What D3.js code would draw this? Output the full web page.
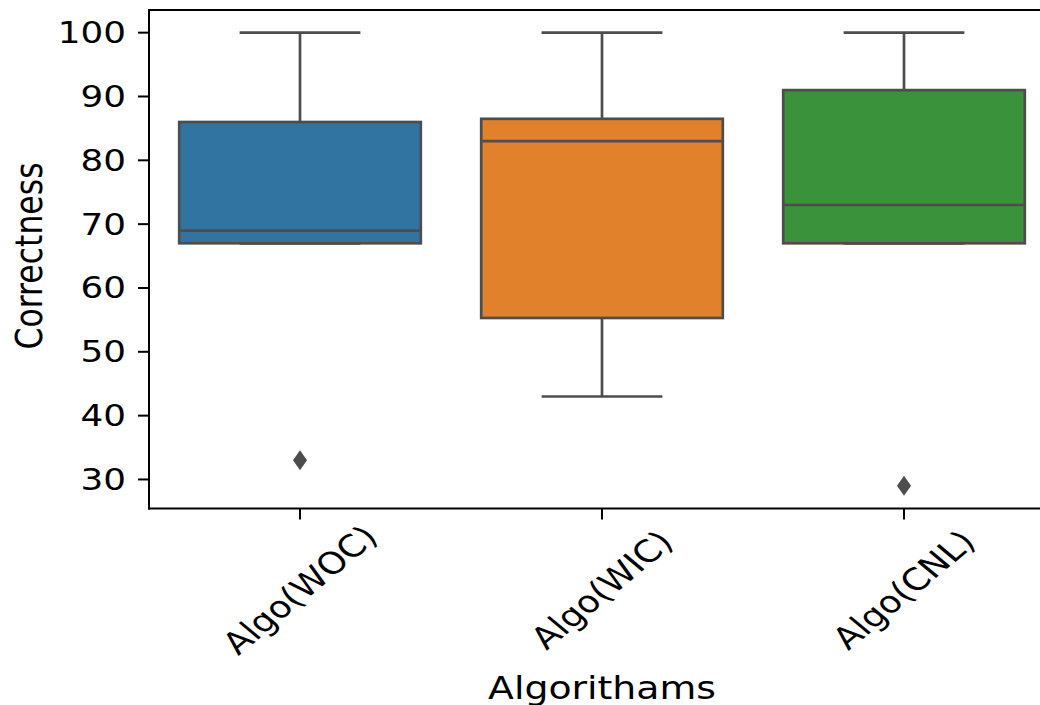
<!DOCTYPE html>
<html lang="en">
<head>
    <meta charset="UTF-8">
    <title>Correctness by algorithm</title>
    <style>
        html, body { margin: 0; background: #fff; overflow: hidden; }
        svg { display: block; }
        text { font-family: "DejaVu Sans", sans-serif; fill: #000; }
    </style>
</head>
<body>
<script src="https://d3js.org/d3.v7.min.js"></script>
<script>
    const width = 1040;
    const height = 705;

    // data
    const categories = ["Algo(WOC)", "Algo(WIC)", "Algo(CNL)"];
    const colors = ["#3274a1", "#e1812c", "#3a923a"];
    const q1 = [67, 55.3, 67];
    const median = [69, 83, 73];
    const q3 = [86, 86.5, 91];
    const whiskerLow = [67, 43, 67];
    const whiskerHigh = [100, 100, 100];
    const outliers = [[33], [], [29]];
    const yTicks = [30, 40, 50, 60, 70, 80, 90, 100];

    const stretch = 1.2; // the picture is stretched horizontally
    const lineColor = "#4d4d4d";

    const svg = d3.select("body")
        .append("svg")
        .attr("width", width)
        .attr("height", height);

    // right edge of the axes lies past the picture
    const plot = {left: 149, right: 1055, top: 10, bottom: 508.5};

    const x = d3.scalePoint()
        .domain(categories)
        .range([plot.left, plot.right])
        .padding(0.5);

    const lo = d3.min([...whiskerLow, ...outliers.flat()]);
    const hi = d3.max([...whiskerHigh, ...outliers.flat()]);
    const pad = (hi - lo) * 0.05;
    const y = d3.scaleLinear()
        .domain([lo - pad, hi + pad])
        .range([plot.bottom, plot.top]);

    const boxHalf = x.step() * 0.4;
    const capHalf = boxHalf / 2;

    const data = categories.map((c, i) => ({
        cat: c, color: colors[i], q1: q1[i], med: median[i], q3: q3[i],
        lo: whiskerLow[i], hi: whiskerHigh[i], out: outliers[i]
    }));

    const g = svg.append("g")
        .selectAll("g")
        .data(data)
        .enter().append("g");

    // whiskers
    g.append("line")
        .attr("x1", d => x(d.cat)).attr("x2", d => x(d.cat))
        .attr("y1", d => y(d.q3)).attr("y2", d => y(d.hi))
        .attr("stroke", lineColor).attr("stroke-width", 2.7);
    g.append("line")
        .attr("x1", d => x(d.cat)).attr("x2", d => x(d.cat))
        .attr("y1", d => y(d.q1)).attr("y2", d => y(d.lo))
        .attr("stroke", lineColor).attr("stroke-width", 2.7);
    // caps
    g.selectAll(".cap")
        .data(d => [d.lo, d.hi].map(v => ({cat: d.cat, v})))
        .enter().append("line")
        .attr("x1", d => x(d.cat) - capHalf).attr("x2", d => x(d.cat) + capHalf)
        .attr("y1", d => y(d.v)).attr("y2", d => y(d.v))
        .attr("stroke", lineColor).attr("stroke-width", 2.7);

    // boxes
    g.append("rect")
        .attr("x", d => x(d.cat) - boxHalf)
        .attr("width", boxHalf * 2)
        .attr("y", d => y(d.q3))
        .attr("height", d => y(d.q1) - y(d.q3))
        .attr("fill", d => d.color)
        .attr("stroke", lineColor).attr("stroke-width", 2.7);
    // medians
    g.append("line")
        .attr("x1", d => x(d.cat) - boxHalf).attr("x2", d => x(d.cat) + boxHalf)
        .attr("y1", d => y(d.med)).attr("y2", d => y(d.med))
        .attr("stroke", lineColor).attr("stroke-width", 2.7);

    // outliers, thin diamonds
    g.selectAll(".out")
        .data(d => d.out.map(v => ({cat: d.cat, v})))
        .enter().append("path")
        .attr("transform", d => `translate(${x(d.cat)},${y(d.v)})`)
        .attr("d", "M0,-10L7,0L0,10L-7,0Z")
        .attr("fill", lineColor);

    // spines: left, top, bottom
    const spines = [
        [plot.left, plot.top, plot.left, plot.bottom],
        [plot.left, plot.top, plot.right, plot.top],
        [plot.left, plot.bottom, plot.right, plot.bottom]
    ];
    svg.append("g").selectAll("line")
        .data(spines)
        .enter().append("line")
        .attr("x1", d => d[0]).attr("y1", d => d[1])
        .attr("x2", d => d[2]).attr("y2", d => d[3])
        .attr("stroke", "#000").attr("stroke-width", 2)
        .attr("stroke-linecap", "square");

    // y axis ticks
    const yt = svg.append("g").selectAll("g")
        .data(yTicks)
        .enter().append("g");
    yt.append("line")
        .attr("x1", plot.left - 11).attr("x2", plot.left)
        .attr("y1", d => y(d)).attr("y2", d => y(d))
        .attr("stroke", "#000").attr("stroke-width", 2);
    yt.append("text")
        .attr("transform", d => `translate(${plot.left - 23},${y(d)}) scale(${stretch},1)`)
        .attr("text-anchor", "end")
        .attr("dominant-baseline", "central")
        .style("font-size", "29.8px")
        .text(d => d);

    // x axis ticks
    const xt = svg.append("g").selectAll("g")
        .data(categories)
        .enter().append("g");
    xt.append("line")
        .attr("x1", d => x(d)).attr("x2", d => x(d))
        .attr("y1", plot.bottom).attr("y2", plot.bottom + 11)
        .attr("stroke", "#000").attr("stroke-width", 2);
    xt.append("text")
        .attr("transform", d => `translate(${x(d)},590) scale(${stretch},1) rotate(-45)`)
        .attr("text-anchor", "middle")
        .attr("dominant-baseline", "central")
        .style("font-size", "30.5px")
        .text(d => d);

    // axis labels
    svg.append("text")
        .attr("transform", `translate(602,699) scale(${stretch},1)`)
        .attr("text-anchor", "middle")
        .style("font-size", "31.5px")
        .text("Algorithams");
    svg.append("text")
        .attr("transform", `translate(42,256) scale(${stretch},1) rotate(-90)`)
        .attr("text-anchor", "middle")
        .style("font-size", "31.5px")
        .text("Correctness");
</script>
</body>
</html>
